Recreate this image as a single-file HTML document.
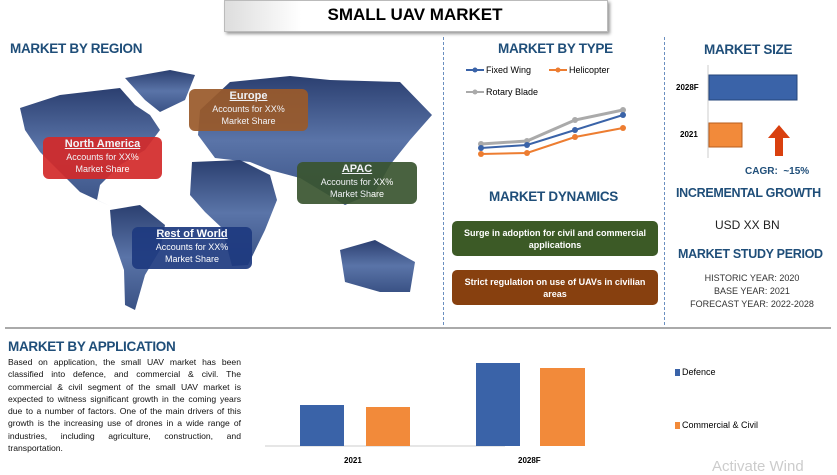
<!DOCTYPE html>
<html><head><meta charset="utf-8"><style>
body{margin:0;width:837px;height:472px;background:#fff;position:relative;overflow:hidden;font-family:"Liberation Sans",sans-serif}
.a{position:absolute}
.h{color:#1f4e79;font-weight:bold;font-size:13.5px;letter-spacing:-0.3px}
.box{position:absolute;border-radius:6px;color:#fff;text-align:center;font-size:9px;line-height:12px;opacity:.92}
.box b{text-decoration:underline;font-size:11px;display:block;line-height:14px}
.dy{position:absolute;border-radius:5px;color:#fff;text-align:center;font-size:9px;font-weight:bold;line-height:12px;display:flex;align-items:center;justify-content:center}
.c{text-align:center;color:#333}
</style></head><body>
<div class="a" style="left:224px;top:0;width:382px;height:30px;background:linear-gradient(90deg,#ddd,#fff 20%);border:1px solid #bbb;box-shadow:2px 2px 3px #999"></div>
<div class="a" style="left:224px;top:5px;width:382px;text-align:center;font-weight:bold;font-size:17px">SMALL UAV MARKET</div>
<div class="a h" style="left:10px;top:41px">MARKET BY REGION</div>
<div class="a" style="left:443px;top:37px;height:288px;border-left:1px dashed #6a8fc0"></div>
<div class="a" style="left:664px;top:37px;height:288px;border-left:1px dashed #6a8fc0"></div>
<div class="a" style="left:5px;top:327px;width:826px;height:2px;background:#aaa"></div>
<svg class="a" style="left:0;top:0" width="837" height="472">
<defs><linearGradient id="g" x1="0" y1="0" x2="0" y2="1"><stop offset="0" stop-color="#2b3f70"/><stop offset=".5" stop-color="#5a74a8"/><stop offset="1" stop-color="#3a5285"/></linearGradient></defs>
<g fill="url(#g)">
<polygon points="125,78 170,70 195,75 185,100 160,112 145,100"/>
<polygon points="20,108 60,95 120,88 135,105 150,115 160,130 145,150 120,165 100,185 97,200 110,206 80,192 60,172 40,152 25,130"/>
<polygon points="110,210 140,205 165,225 160,250 145,275 135,310 125,305 124,270 112,235"/>
<polygon points="200,110 230,82 290,76 330,80 400,82 432,115 410,140 390,165 375,192 345,205 320,190 300,178 270,170 250,162 215,158 198,135"/>
<polygon points="192,162 240,160 270,175 277,200 265,230 248,265 232,266 222,228 205,212 190,195"/>
<polygon points="340,250 375,240 415,262 410,292 380,292 345,282"/>
</g>
<polyline points="481,144 527,141 575,120 623,110" fill="none" stroke="#aaa" stroke-width="3"/>
<polyline points="481,148 527,145 575,130 623,115" fill="none" stroke="#3a63a8" stroke-width="2"/>
<polyline points="481,154 527,153 575,137 623,128" fill="none" stroke="#ed7d31" stroke-width="2"/>
<g fill="#aaa"><circle cx="481" cy="144" r="3"/><circle cx="527" cy="141" r="3"/><circle cx="575" cy="120" r="3"/><circle cx="623" cy="110" r="3"/></g>
<g fill="#3a63a8"><circle cx="481" cy="148" r="3"/><circle cx="527" cy="145" r="3"/><circle cx="575" cy="130" r="3"/><circle cx="623" cy="115" r="3"/></g>
<g fill="#ed7d31"><circle cx="481" cy="154" r="3"/><circle cx="527" cy="153" r="3"/><circle cx="575" cy="137" r="3"/><circle cx="623" cy="128" r="3"/></g>
<line x1="466" y1="70" x2="484" y2="70" stroke="#3a63a8" stroke-width="2"/><circle cx="475" cy="70" r="2.5" fill="#3a63a8"/>
<line x1="549" y1="70" x2="567" y2="70" stroke="#ed7d31" stroke-width="2"/><circle cx="558" cy="70" r="2.5" fill="#ed7d31"/>
<line x1="466" y1="92" x2="484" y2="92" stroke="#aaa" stroke-width="2"/><circle cx="475" cy="92" r="2.5" fill="#aaa"/>
<line x1="708" y1="65" x2="708" y2="158" stroke="#ccc"/>
<rect x="709" y="75" width="88" height="25" fill="#3a63a8" stroke="#24447a"/>
<rect x="709" y="123" width="33" height="24" fill="#f28a3a" stroke="#b85d1d"/>
<polygon points="779,125 768,138 775,138 775,156 783,156 783,138 790,138" fill="#d9400f"/>
<line x1="265" y1="446" x2="505" y2="446" stroke="#ccc"/>
<rect x="300" y="405" width="44" height="41" fill="#3a63a8"/>
<rect x="366" y="407" width="44" height="39" fill="#f28a3a"/>
<rect x="476" y="363" width="44" height="83" fill="#3a63a8"/>
<rect x="540" y="368" width="45" height="78" fill="#f28a3a"/>
<rect x="675" y="369" width="5" height="7" fill="#3a63a8"/>
<rect x="675" y="422" width="5" height="7" fill="#f28a3a"/>
</svg>
<div class="box" style="left:189px;top:89px;width:119px;height:42px;background:#9a5a2a"><b>Europe</b>Accounts for XX%<br>Market Share</div>
<div class="box" style="left:43px;top:137px;width:119px;height:42px;background:#d32a2a"><b>North America</b>Accounts for XX%<br>Market Share</div>
<div class="box" style="left:297px;top:162px;width:120px;height:42px;background:#3a5530"><b>APAC</b>Accounts for XX%<br>Market Share</div>
<div class="box" style="left:132px;top:227px;width:120px;height:42px;background:#1e3a80"><b>Rest of World</b>Accounts for XX%<br>Market Share</div>
<div class="a h" style="left:498px;top:41px">MARKET BY TYPE</div>
<div class="a" style="left:486px;top:65px;font-size:9px">Fixed Wing</div>
<div class="a" style="left:569px;top:65px;font-size:9px">Helicopter</div>
<div class="a" style="left:486px;top:87px;font-size:9px">Rotary Blade</div>
<div class="a h" style="left:489px;top:189px">MARKET DYNAMICS</div>
<div class="dy" style="left:452px;top:221px;width:206px;height:35px;background:#3c5a26">Surge in adoption for civil and commercial applications</div>
<div class="dy" style="left:452px;top:270px;width:206px;height:35px;background:#87400f">Strict regulation on use of UAVs in civilian areas</div>
<div class="a h" style="left:704px;top:42px">MARKET SIZE</div>
<div class="a" style="left:676px;top:83px;font-size:8px;font-weight:bold">2028F</div>
<div class="a" style="left:680px;top:130px;font-size:8px;font-weight:bold">2021</div>
<div class="a" style="left:745px;top:166px;font-size:10px;font-weight:bold;color:#1f4e79">CAGR:&nbsp; ~15%</div>
<div class="a h" style="left:676px;top:186px;font-size:12.5px">INCREMENTAL GROWTH</div>
<div class="a" style="left:715px;top:218px;font-size:12px;color:#222">USD XX BN</div>
<div class="a h" style="left:678px;top:247px;font-size:12.5px">MARKET STUDY PERIOD</div>
<div class="a c" style="left:672px;top:272px;width:160px;font-size:9px;line-height:13px">HISTORIC YEAR: 2020<br>BASE YEAR: 2021<br>FORECAST YEAR: 2022-2028</div>
<div class="a h" style="left:8px;top:339px">MARKET BY APPLICATION</div>
<div class="a" style="left:8px;top:356px;width:233px;font-size:8.6px;line-height:12.3px;text-align:justify;color:#111">Based on application, the small UAV market has been classified into defence, and commercial &amp; civil. The commercial &amp; civil segment of the small UAV market is expected to witness significant growth in the coming years due to a number of factors. One of the main drivers of this growth is the increasing use of drones in a wide range of industries, including agriculture, construction, and transportation.</div>
<div class="a" style="left:344px;top:456px;font-size:8px;font-weight:bold">2021</div>
<div class="a" style="left:518px;top:456px;font-size:8px;font-weight:bold">2028F</div>
<div class="a" style="left:682px;top:367px;font-size:9px">Defence</div>
<div class="a" style="left:682px;top:420px;font-size:9px">Commercial &amp; Civil</div>
<div class="a" style="left:712px;top:458px;font-size:15px;color:#ccc">Activate Wind</div>
</body></html>
